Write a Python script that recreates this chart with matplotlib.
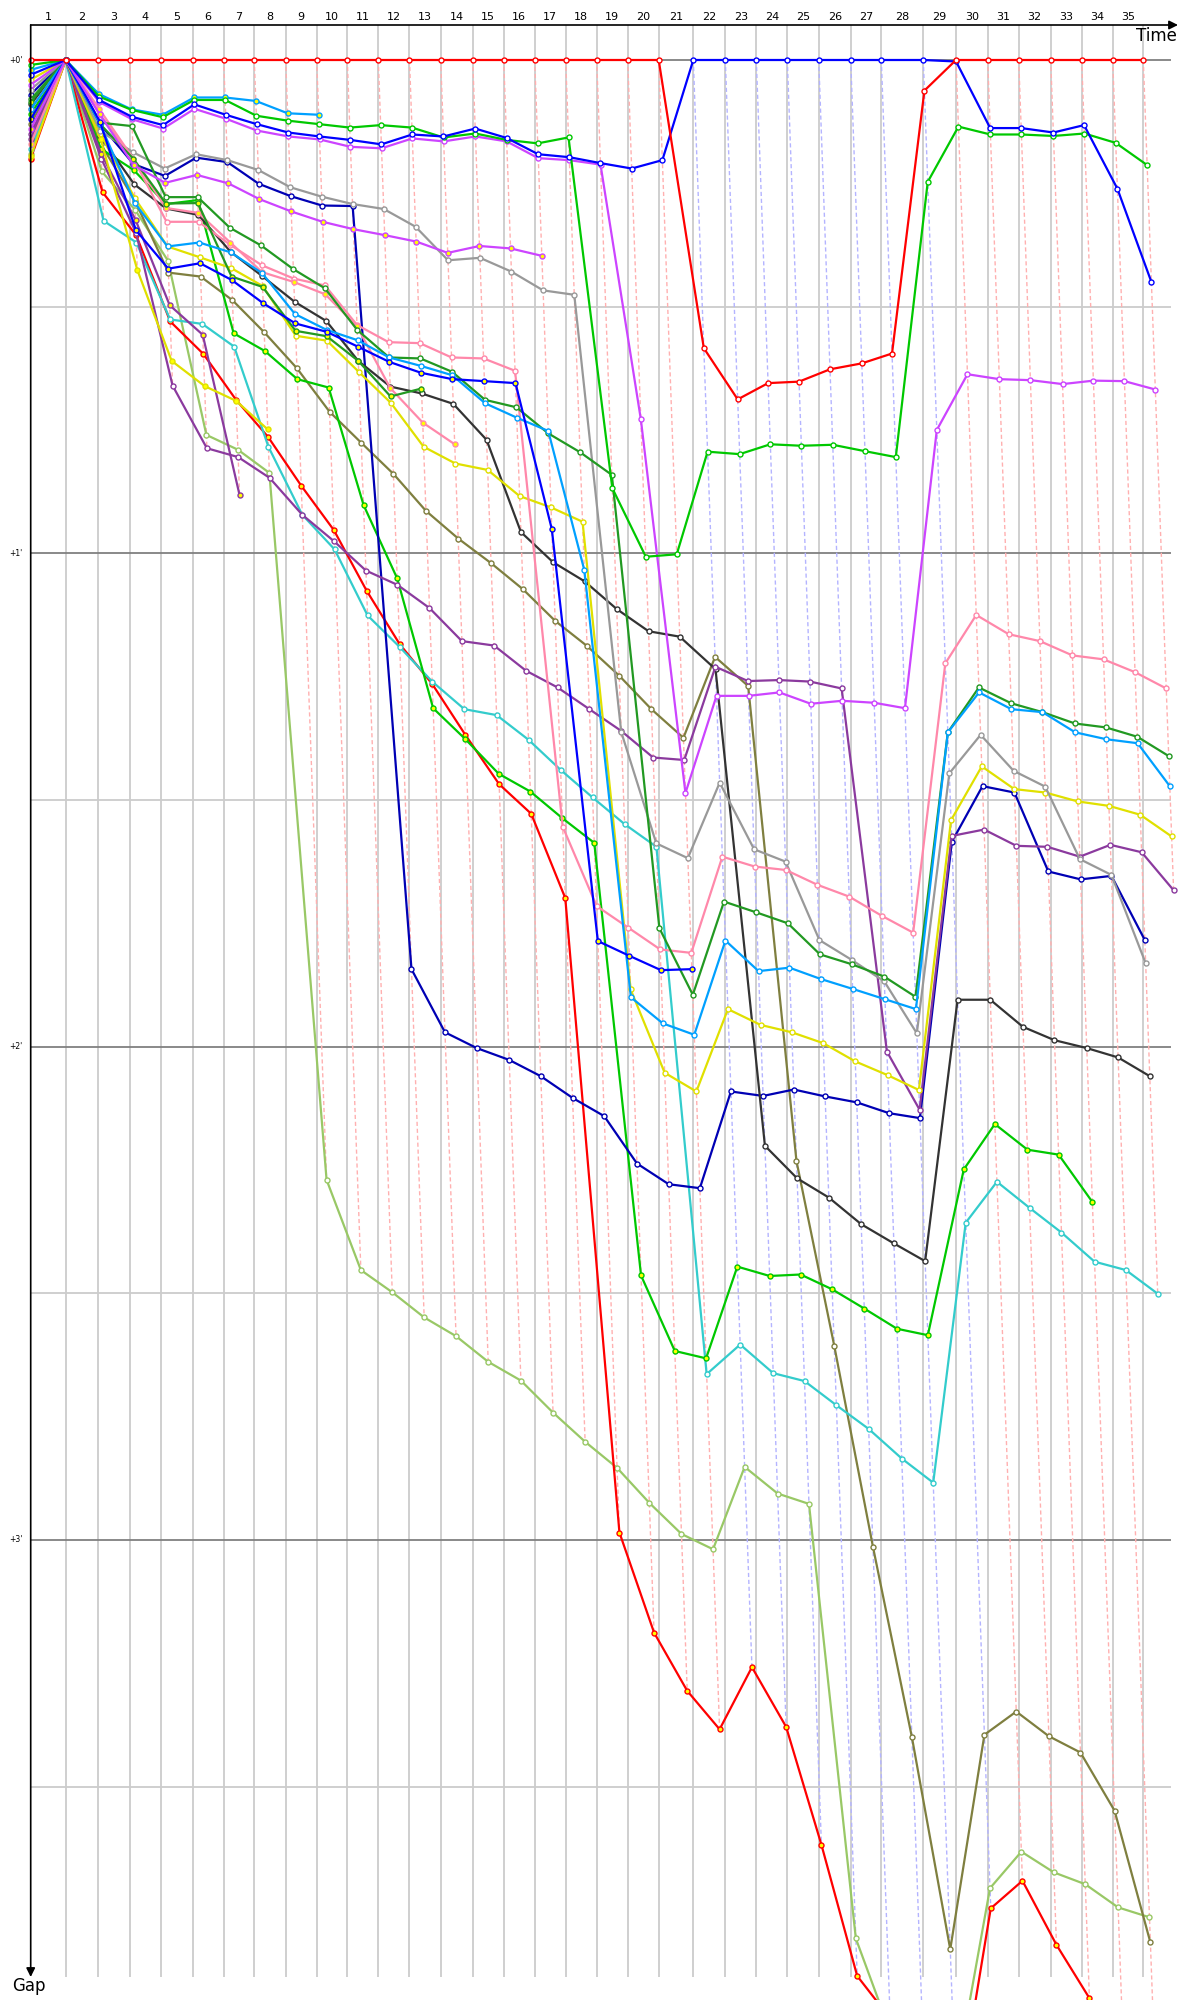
import numpy as np
import matplotlib
matplotlib.use("Agg")
import matplotlib.pyplot as plt

# race clock of the leader at the end of each lap, in minutes (lap 0 .. 35)
leader_clock = [0.0, 1.944, 3.722, 5.5, 7.222, 9.0, 10.722, 12.422, 14.167, 15.889,
                17.589, 19.311, 21.044, 22.778, 24.556, 26.278, 28.0, 29.722, 31.444,
                33.167, 34.889, 36.811, 38.589, 40.311, 42.033, 43.778, 45.556, 47.256,
                49.589, 51.406, 53.167, 54.889, 56.667, 58.389, 60.111, 61.811]
lap_labels = [str(i) for i in range(1, 36)]
gap_ticks = [0, 1, 2, 3]
gap_tick_labels = ["+0'", "+1'", "+2'", "+3'"]

# gap to the leader in minutes, one value per lap starting at lap 0
red_a = [0.0] + [0] * 20 + [0.584, 0.688, 0.655, 0.652, 0.627, 0.615, 0.595, 0.062] + [0] * 7
blue_a = [0.03, 0, 0.081, 0.115, 0.132, 0.09, 0.111, 0.13, 0.147, 0.155, 0.162, 0.171, 0.151,
          0.155, 0.139, 0.158, 0.191, 0.197, 0.209, 0.22, 0.203] + [0] * 8 + \
         [0.003, 0.138, 0.138, 0.147, 0.132, 0.261, 0.45]
green_a = [0.01, 0, 0.074, 0.101, 0.116, 0.081, 0.081, 0.113, 0.123, 0.13, 0.137, 0.132, 0.137,
           0.157, 0.149, 0.162, 0.169, 0.157, 0.868, 1.007, 1.002, 0.794, 0.799, 0.779, 0.782,
           0.78, 0.793, 0.805, 0.247, 0.135, 0.151, 0.151, 0.154, 0.149, 0.168, 0.213]
magenta_a = [0.05, 0, 0.085, 0.12, 0.139, 0.099, 0.119, 0.143, 0.155, 0.161, 0.176, 0.179, 0.159,
             0.165, 0.155, 0.165, 0.199, 0.203, 0.212, 0.728, 1.486, 1.289, 1.289, 1.282, 1.305,
             1.299, 1.303, 1.314, 0.75, 0.637, 0.647, 0.649, 0.657, 0.65, 0.651, 0.668]
lightblue_b = [0.02, 0, 0.069, 0.1, 0.111, 0.076, 0.076, 0.083, 0.108, 0.111]
darkgreen_a = [0.08, 0, 0.127, 0.134, 0.278, 0.278, 0.34, 0.376, 0.424, 0.463, 0.547, 0.603, 0.605,
               0.632, 0.689, 0.704, 0.757, 0.795, 0.841, 1.76, 1.895, 1.706, 1.728, 1.75, 1.813,
               1.833, 1.858, 1.899, 1.363, 1.272, 1.304, 1.322, 1.345, 1.353, 1.372, 1.411]
lightblue_a = [0.1, 0, 0.13, 0.29, 0.378, 0.37, 0.39, 0.432, 0.515, 0.547, 0.568, 0.603, 0.62,
               0.639, 0.696, 0.725, 0.752, 1.034, 1.9, 1.953, 1.976, 1.785, 1.847, 1.84, 1.863,
               1.883, 1.904, 1.924, 1.363, 1.282, 1.316, 1.322, 1.363, 1.377, 1.385, 1.472]
gray_a = [0.06, 0, 0.144, 0.187, 0.22, 0.191, 0.203, 0.223, 0.258, 0.277, 0.292, 0.302, 0.338,
          0.406, 0.401, 0.429, 0.467, 0.476, 1.362, 1.588, 1.618, 1.465, 1.6, 1.625, 1.784,
          1.824, 1.868, 1.973, 1.446, 1.368, 1.441, 1.473, 1.62, 1.652, 1.831]
navy_a = [0.07, 0, 0.13, 0.211, 0.235, 0.198, 0.207, 0.251, 0.276, 0.295, 0.296, 1.843, 1.971,
          2.003, 2.027, 2.06, 2.104, 2.141, 2.237, 2.279, 2.287, 2.091, 2.1, 2.087, 2.101,
          2.113, 2.135, 2.145, 1.585, 1.472, 1.485, 1.645, 1.661, 1.654, 1.784]
blue_b = [0.12, 0, 0.125, 0.345, 0.423, 0.412, 0.446, 0.493, 0.534, 0.551, 0.581, 0.612, 0.634,
          0.647, 0.651, 0.655, 0.951, 1.786, 1.816, 1.845, 1.843]
black_a = [0.09, 0, 0.155, 0.252, 0.301, 0.314, 0.389, 0.438, 0.49, 0.529, 0.61, 0.662, 0.676,
           0.697, 0.77, 0.957, 1.018, 1.057, 1.113, 1.158, 1.169, 1.235, 2.201, 2.267, 2.306,
           2.36, 2.399, 2.435, 1.905, 1.905, 1.96, 1.987, 2.003, 2.022, 2.06]
olive_a = [0.13, 0, 0.17, 0.285, 0.431, 0.439, 0.487, 0.552, 0.625, 0.713, 0.776, 0.839, 0.914,
           0.97, 1.02, 1.073, 1.137, 1.188, 1.248, 1.316, 1.374, 1.21, 1.269, 2.232, 2.606,
           3.014, 3.4, 3.83, 3.395, 3.348, 3.398, 3.431, 3.549, 3.816]
purple_a = [0.15, 0, 0.2, 0.35, 0.66, 0.787, 0.805, 0.847, 0.922, 0.976, 1.035, 1.064, 1.111,
            1.178, 1.187, 1.238, 1.272, 1.316, 1.36, 1.414, 1.419, 1.23, 1.259, 1.257, 1.26,
            1.274, 2.01, 2.128, 1.573, 1.56, 1.593, 1.595, 1.615, 1.591, 1.606, 1.683]
purple_b = [0.16, 0, 0.19, 0.324, 0.497, 0.557, 0.882]
cyan_a = [0.18, 0, 0.326, 0.37, 0.526, 0.535, 0.581, 0.784, 0.922, 0.992, 1.126, 1.19, 1.26,
          1.316, 1.328, 1.378, 1.439, 1.495, 1.549, 1.595, 2.664, 2.604, 2.662, 2.678, 2.727,
          2.775, 2.835, 2.884, 2.357, 2.274, 2.327, 2.377, 2.436, 2.453, 2.501]
red_b = [0.2, 0, 0.268, 0.355, 0.53, 0.596, 0.689, 0.764, 0.863, 0.953, 1.076, 1.184, 1.265,
         1.368, 1.468, 1.528, 1.699, 2.985, 3.188, 3.306, 3.384, 3.258, 3.379, 3.618, 3.884,
         3.97, 4.1, 4.17, 3.747, 3.691, 3.821, 3.929, 4.2, 4.4]
ygreen_a = [0.19, 0, 0.226, 0.304, 0.407, 0.76, 0.79, 0.837, 2.27, 2.453, 2.498, 2.549, 2.587,
            2.639, 2.677, 2.742, 2.801, 2.854, 2.925, 2.988, 3.019, 2.852, 2.906, 2.927, 3.808,
            4.0, 4.05, 4.1, 3.706, 3.632, 3.674, 3.698, 3.745, 3.765]
green_b = [0.11, 0, 0.18, 0.223, 0.292, 0.284, 0.554, 0.59, 0.647, 0.664, 0.902, 1.051, 1.314,
           1.377, 1.447, 1.483, 1.537, 1.587, 2.464, 2.617, 2.632, 2.446, 2.465, 2.462, 2.492,
           2.531, 2.572, 2.585, 2.249, 2.157, 2.209, 2.219, 2.315]
magenta_b = [0.14, 0, 0.11, 0.213, 0.249, 0.233, 0.25, 0.282, 0.307, 0.328, 0.343, 0.355, 0.368,
             0.391, 0.377, 0.382, 0.397]
pink_a = [0.1, 0, 0.11, 0.2, 0.328, 0.328, 0.375, 0.416, 0.443, 0.457, 0.537, 0.572, 0.574,
          0.603, 0.605, 0.63, 1.554, 1.715, 1.759, 1.803, 1.81, 1.615, 1.635, 1.642, 1.672,
          1.696, 1.735, 1.769, 1.223, 1.125, 1.164, 1.178, 1.207, 1.215, 1.241, 1.274]
pink_b = [0.17, 0, 0.1, 0.2, 0.3, 0.31, 0.37, 0.43, 0.45, 0.475, 0.54, 0.665, 0.735, 0.779]
yellow_a = [0.04, 0, 0.15, 0.28, 0.378, 0.4, 0.422, 0.458, 0.559, 0.569, 0.632, 0.695, 0.784,
            0.818, 0.831, 0.884, 0.907, 0.936, 1.884, 2.053, 2.091, 1.924, 1.956, 1.971, 1.993,
            2.03, 2.058, 2.088, 1.541, 1.432, 1.478, 1.485, 1.503, 1.512, 1.53, 1.574]
yellow_b = [0.195, 0, 0.16, 0.426, 0.61, 0.661, 0.691, 0.749]
darkgreen_b = [0.085, 0, 0.13, 0.2, 0.291, 0.29, 0.439, 0.46, 0.549, 0.56, 0.61, 0.682, 0.666]

# (gaps, line colour, marker fill) - drawn in this order, leaders last
drivers = [
    (ygreen_a, "#99c866", "white"),
    (red_b, "#ff0000", "#ffff00"),
    (olive_a, "#7f7f3f", "white"),
    (cyan_a, "#33cccc", "white"),
    (green_b, "#00c800", "#ffff00"),
    (navy_a, "#0000b4", "white"),
    (black_a, "#333333", "white"),
    (purple_a, "#8b3a9e", "white"),
    (purple_b, "#8b3a9e", "#ffff00"),
    (yellow_a, "#e0e000", "white"),
    (yellow_b, "#e0e000", "#ffff00"),
    (gray_a, "#999999", "white"),
    (pink_a, "#ff88aa", "white"),
    (pink_b, "#ff88aa", "#ffff00"),
    (darkgreen_a, "#229922", "white"),
    (darkgreen_b, "#229922", "#ffff00"),
    (lightblue_a, "#00a0ff", "white"),
    (blue_b, "#0000ff", "#ffff00"),
    (magenta_b, "#cc44ff", "#ffff00"),
    (magenta_a, "#cc44ff", "white"),
    (lightblue_b, "#00a0ff", "#ffff00"),
    (green_a, "#00c800", "white"),
    (blue_a, "#0000ff", "white"),
    (red_a, "#ff0000", "white"),
]

clock = np.array(leader_clock)
fig = plt.figure(figsize=(12, 20), dpi=100)
# pixel layout: left axis at x=30.7px, 18px per minute of race time,
# gap 0 at y=60px, 493.3px per minute of gap
ax = fig.add_axes([30.7 / 1200, 0, (1178 - 30.7) / 1200, 1975 / 2000])
xmax = (1178 - 30.7) / 18
ytop = (25 - 60) / 493.3
ybot = (2000 - 60) / 493.3
grid_bot = (1977 - 60) / 493.3
grid_right = (1171 - 30.7) / 18
ax.set_xlim(0, xmax)
ax.set_ylim(ybot, ytop)
ax.axis("off")

# grid
ax.vlines(clock[1:], ytop, grid_bot, color="#cccccc", lw=1.3, zorder=1)
for g in np.arange(0.5, 4, 1.0):
    ax.hlines(g, 0, grid_right, color="#cccccc", lw=1.3, zorder=1)
for g in gap_ticks:
    ax.hlines(g, 0, grid_right, color="#808080", lw=1.3, zorder=1)
    ax.text(-0.45, g, gap_tick_labels[gap_ticks.index(g)], ha="right", va="center",
            fontsize=5.5, clip_on=False)

# lap numbers between leader crossings
for i, lab in enumerate(lap_labels):
    ax.text((clock[i] + clock[i + 1]) / 2, (17 - 60) / 493.3, lab, ha="center",
            va="center", fontsize=8, clip_on=False)

# dashed lines: same leader lap, running down to the last car on that lap
for k in range(1, len(clock)):
    gmax = max(d[0][k] for d in drivers if len(d[0]) > k)
    col = "#ffb0b0" if red_a[k] == 0 else "#b4b4ff"
    ax.plot([clock[k], clock[k] + gmax], [0, gmax], color=col, lw=1.0,
            ls=(0, (3, 2)), zorder=2)

for gaps, col, fill in drivers:
    g = np.array(gaps, dtype=float)
    x = clock[:len(g)] + g
    x[0] = clock[0]
    ax.plot(x, g, color=col, lw=1.6, marker="o", ms=3.6, mfc=fill, mec=col,
            mew=1.0, zorder=3, clip_on=False)

# axes with arrows
ax.annotate("", xy=(xmax, ytop), xytext=(0, ytop), annotation_clip=False,
            arrowprops=dict(arrowstyle="-|>", color="black", lw=1.2,
                            mutation_scale=13, shrinkA=0, shrinkB=0))
ax.annotate("", xy=(0, grid_bot), xytext=(0, ytop), annotation_clip=False,
            arrowprops=dict(arrowstyle="-|>", color="black", lw=1.2,
                            mutation_scale=13, shrinkA=0, shrinkB=0))
ax.text(xmax - 0.05, (27 - 60) / 493.3, "Time", ha="right", va="top", fontsize=12)
ax.text((12 - 30.7) / 18, (1977 - 60) / 493.3, "Gap", ha="left", va="top",
        fontsize=12, clip_on=False)

fig.savefig("out.png", dpi=100)
